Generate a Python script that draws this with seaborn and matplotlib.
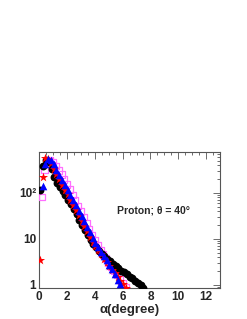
import numpy as np
import pandas as pd
import seaborn as sns
import matplotlib.pyplot as plt
from matplotlib.ticker import FixedLocator, FixedFormatter, MultipleLocator, LogLocator, NullFormatter

# alpha (degree) bins and counts
alpha_black = [0.1, 0.3, 0.5, 0.7, 0.9, 1.1, 1.3, 1.5, 1.7, 1.9, 2.1, 2.3, 2.5, 2.7, 2.9, 3.1,
               3.3, 3.5, 3.7, 3.9, 4.1, 4.3, 4.5, 4.7, 4.9, 5.1, 5.3, 5.5, 5.7, 5.9, 6.1, 6.3,
               6.5, 6.7, 6.9, 7.1, 7.3, 7.5]
cnt_black = [117, 390, 520, 470, 330, 225, 168, 134, 110, 91, 72, 58, 45, 35, 26, 20,
             15.5, 12, 9.5, 7.9, 6.6, 5.5, 4.8, 4.2, 3.7, 3.3, 2.9, 2.6, 2.3, 2.05, 1.86, 1.7,
             1.51, 1.38, 1.23, 1.12, 1.0, 0.87]

alpha_blue = [0.25, 0.45, 0.65, 0.85, 1.05, 1.25, 1.45, 1.65, 1.85, 2.05, 2.25, 2.45, 2.65, 2.85,
              3.05, 3.25, 3.45, 3.65, 3.85, 4.05, 4.25, 4.45, 4.65, 4.85, 5.05, 5.25, 5.45, 5.65, 5.85]
cnt_blue = [145, 420, 550, 530, 420, 315, 245, 188, 146, 114, 89, 69, 54, 41,
            32, 24, 18, 13.8, 10.5, 8.3, 6.6, 5.2, 4.2, 3.4, 2.75, 2.2, 1.7, 1.3, 1.05]

alpha_red = [0.05, 0.25, 0.45, 0.65, 0.85, 1.05, 1.25, 1.45, 1.65, 1.85, 2.05, 2.25, 2.45, 2.65,
             2.85, 3.05, 3.25, 3.45, 3.65, 3.85, 4.05, 4.25, 4.45, 4.65, 4.85, 5.05, 5.25, 5.45,
             5.65, 5.85, 6.05, 6.25]
cnt_red = [3.4, 225, 575, 560, 450, 340, 258, 198, 153, 119, 93, 72, 56, 43,
           33, 25, 19, 14.5, 11.2, 8.7, 6.9, 5.6, 4.6, 3.7, 3.1, 2.6, 2.1, 1.78,
           1.48, 1.23, 1.02, 0.87]

alpha_mag = [0.2, 0.4, 0.6, 0.8, 1.0, 1.2, 1.4, 1.6, 1.8, 2.0, 2.2, 2.4, 2.6, 2.8, 3.0, 3.2,
             3.4, 3.6, 3.8, 4.0, 4.2, 4.4, 4.6, 4.8, 5.0, 5.2, 5.4, 5.6, 5.8, 6.0, 6.2]
cnt_mag = [81, 316, 500, 515, 465, 390, 312, 250, 198, 155, 120, 91, 69, 52, 40, 30,
           22, 16, 12.3, 9.3, 7.2, 5.8, 4.6, 3.7, 3.0, 2.45, 2.0, 1.62, 1.32, 1.07, 0.89]

ytick_vals = [1, 10, 100]
ytick_labels = ["1", "10", "10²"]

sns.set_style("white")
plt.rcParams['font.family'] = ['Liberation Sans', 'DejaVu Sans']
plt.rcParams['font.weight'] = 'bold'

fig = plt.figure(figsize=(2.47, 3.19), dpi=100)
ax = fig.add_axes([0.158, 0.097, 0.733, 0.428])

series = [
    (alpha_mag, cnt_mag, dict(marker='s', s=22, facecolor='none', edgecolor='#ff6eff', linewidth=0.9)),
    (alpha_black, cnt_black, dict(marker='o', s=32, color='black', edgecolor='black', linewidth=0)),
    (alpha_red, cnt_red, dict(marker='*', s=48, color='red', edgecolor='red', linewidth=0)),
    (alpha_blue, cnt_blue, dict(marker='^', s=30, color='blue', edgecolor='blue', linewidth=0)),
]
for xs, ys, kw in series:
    d = pd.DataFrame({'alpha': xs, 'n': ys})
    sns.scatterplot(data=d, x='alpha', y='n', ax=ax, legend=False, zorder=3, **kw)

ax.set_yscale('log')
ax.set_xlim(0, 13)
ax.set_ylim(0.85, 800)

ax.xaxis.set_major_locator(MultipleLocator(2))
ax.xaxis.set_minor_locator(MultipleLocator(0.5))
ax.yaxis.set_major_locator(FixedLocator(ytick_vals))
ax.yaxis.set_major_formatter(FixedFormatter(ytick_labels))
ax.yaxis.set_minor_locator(LogLocator(base=10, subs=np.arange(2, 10)))
ax.yaxis.set_minor_formatter(NullFormatter())

ax.tick_params(which='both', direction='in', top=True, right=True, color='#555555', width=0.6,
               labelsize=8.5, pad=2)
ax.tick_params(which='major', length=5)
ax.tick_params(which='minor', length=2.5)
for lab in ax.get_xticklabels() + ax.get_yticklabels():
    lab.set_fontweight('bold')
for sp in ax.spines.values():
    sp.set_color('#555555')
    sp.set_linewidth(0.8)

ax.set_xlabel('α(degree)', fontsize=9.5, fontweight='bold', labelpad=1)
ax.set_ylabel('')
ax.text(0.43, 0.57, 'Proton; θ = 40°', transform=ax.transAxes, fontsize=7.5,
        fontweight='bold', va='center', ha='left')

fig.savefig('out.png', dpi=100)
